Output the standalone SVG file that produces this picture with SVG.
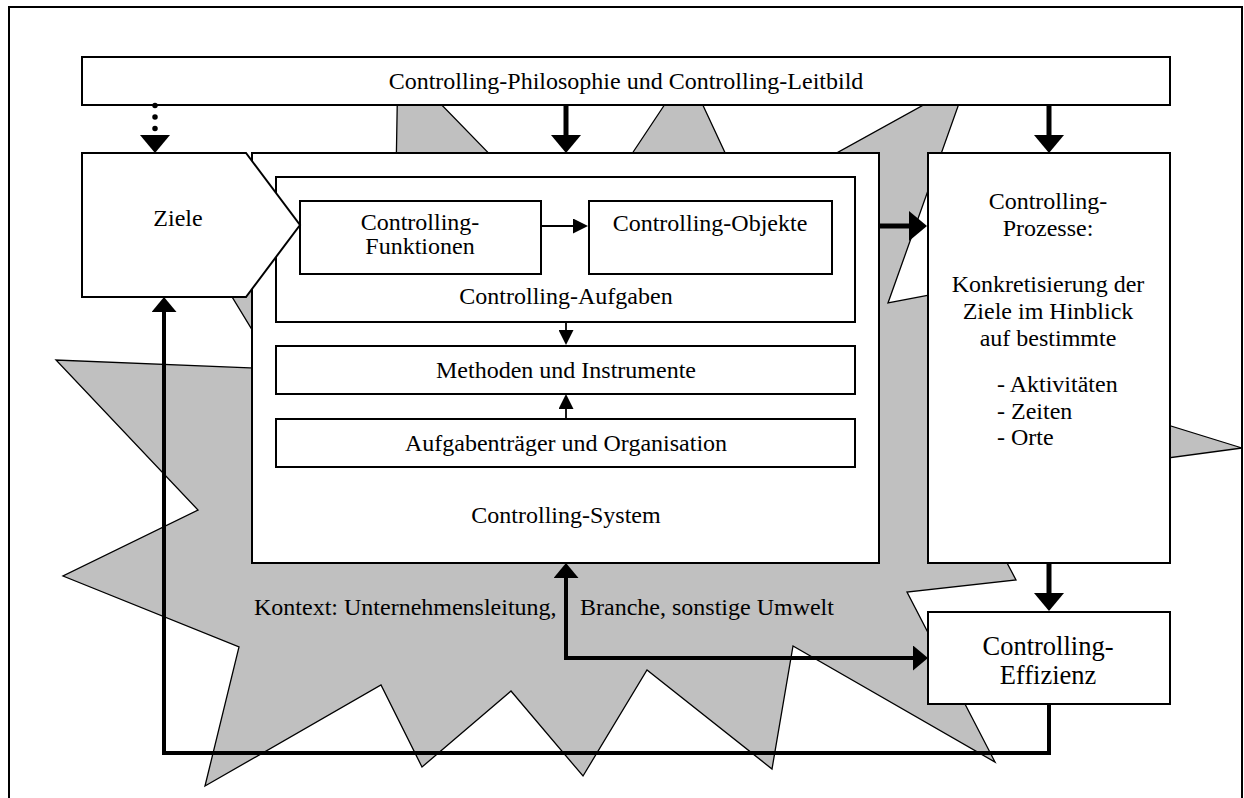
<svg xmlns="http://www.w3.org/2000/svg" width="1244" height="798" viewBox="0 0 1244 798">
  <defs>
    <style>
      .frame{fill:none;stroke:#000;stroke-width:2}
      .star{fill:#c0c0c0;stroke:#000;stroke-width:1.3;stroke-linejoin:miter}
      .box{fill:#fff;stroke:#000;stroke-width:2}
      .txt{font-family:"Liberation Serif","Times New Roman",serif;font-size:24px;fill:#000}
      .mid{text-anchor:middle}
      .large{font-size:26.5px}
      .thick{fill:none;stroke:#000;stroke-width:5}
      .med{fill:none;stroke:#000;stroke-width:4}
      .thin{fill:none;stroke:#000;stroke-width:1.8}
      .dots{fill:none;stroke:#000;stroke-width:5.5;stroke-linecap:round;stroke-dasharray:0 11.5}
    </style>
    <!-- arrowheads: line end sits inside the head, tip projects beyond it -->
    <marker id="head-thick" markerUnits="userSpaceOnUse" viewBox="0 0 18 30" markerWidth="18" markerHeight="30" refX="8" refY="15" orient="auto">
      <path d="M0,0 L18,15 L0,30 Z" fill="#000"/>
    </marker>
    <marker id="head-med" markerUnits="userSpaceOnUse" viewBox="0 0 15 25" markerWidth="15" markerHeight="25" refX="7" refY="12.5" orient="auto-start-reverse">
      <path d="M0,0 L15,12.5 L0,25 Z" fill="#000"/>
    </marker>
    <marker id="head-thin" markerUnits="userSpaceOnUse" viewBox="0 0 15 15" markerWidth="15" markerHeight="15" refX="3" refY="7.5" orient="auto">
      <path d="M0,0 L15,7.5 L0,15 Z" fill="#000"/>
    </marker>
  </defs>

  <rect width="1244" height="798" fill="#fff"/>
  <path class="frame" d="M9,798 V7 H1242 V798"/>

  <!-- context "explosion" shape behind everything -->
  <g id="kontext-shape">
    <polygon class="star" points="398,60 574,241 687,71 748,202 967,81 888,303 1050,272 1100,404 1242,448 966,485 1016,580 907,592 995,762 793,646 772,769 647,670 583,776 511,691 422,767 381,685 205,786 239,647 63,576 198,510 56,360 276,369 170,195 395,235"/>
  </g>

  <g id="leitbild">
    <rect class="box" x="82" y="57" width="1088" height="48"/>
    <text class="txt mid" x="626" y="89">Controlling-Philosophie und Controlling-Leitbild</text>
  </g>

  <g id="system">
    <rect class="box" x="252" y="153" width="627" height="410"/>
    <text class="txt mid" x="566" y="523">Controlling-System</text>
  </g>

  <g id="aufgaben">
    <rect class="box" x="276" y="177" width="579" height="145"/>
    <text class="txt mid" x="566" y="304">Controlling-Aufgaben</text>
  </g>

  <g id="funktionen">
    <rect class="box" x="300" y="201" width="241" height="73"/>
    <text class="txt mid" x="420" y="230">Controlling-</text>
    <text class="txt mid" x="420" y="254">Funktionen</text>
  </g>

  <g id="objekte">
    <rect class="box" x="589" y="201" width="243" height="73"/>
    <text class="txt mid" x="710" y="231">Controlling-Objekte</text>
  </g>

  <g id="methoden">
    <rect class="box" x="276" y="346" width="579" height="48"/>
    <text class="txt mid" x="566" y="378">Methoden und Instrumente</text>
  </g>

  <g id="traeger">
    <rect class="box" x="276" y="419" width="579" height="48"/>
    <text class="txt mid" x="566" y="451">Aufgabenträger und Organisation</text>
  </g>

  <g id="ziele">
    <polygon class="box" points="82,153 246,153 300,225 246,297 82,297"/>
    <text class="txt mid" x="178" y="226">Ziele</text>
  </g>

  <g id="prozesse">
    <rect class="box" x="928" y="153" width="242" height="410"/>
    <text class="txt mid" x="1048" y="209">Controlling-</text>
    <text class="txt mid" x="1048" y="236">Prozesse:</text>
    <text class="txt mid" x="1048" y="292">Konkretisierung der</text>
    <text class="txt mid" x="1048" y="319">Ziele im Hinblick</text>
    <text class="txt mid" x="1048" y="346">auf bestimmte</text>
    <text class="txt" x="997" y="392">- Aktivitäten</text>
    <text class="txt" x="997" y="419">- Zeiten</text>
    <text class="txt" x="997" y="445">- Orte</text>
  </g>

  <g id="effizienz">
    <rect class="box" x="928" y="612" width="242" height="92"/>
    <text class="txt mid large" x="1048" y="655">Controlling-</text>
    <text class="txt mid large" x="1048" y="684">Effizienz</text>
  </g>

  <g id="kontext-label">
    <text class="txt" x="254" y="615">Kontext: Unternehmensleitung,</text>
    <text class="txt" x="580" y="615">Branche, sonstige Umwelt</text>
  </g>

  <g id="connectors">
    <path class="dots" d="M155,105.5 V143" marker-end="url(#head-thick)"/>
    <path class="thick" d="M566,105 V143" marker-end="url(#head-thick)"/>
    <path class="thick" d="M1049,105 V143" marker-end="url(#head-thick)"/>
    <path class="thick" d="M879,226 H917" marker-end="url(#head-thick)"/>
    <path class="thick" d="M1049,563 V601" marker-end="url(#head-thick)"/>
    <path class="med" d="M566,571 V658 H920" marker-start="url(#head-med)" marker-end="url(#head-med)"/>
    <path class="med" d="M1049,704 V753 H164 V305" marker-end="url(#head-med)"/>
    <path class="thin" d="M541,226 H576" marker-end="url(#head-thin)"/>
    <path class="thin" d="M566,322 V333" marker-end="url(#head-thin)"/>
    <path class="thin" d="M566,419 V406" marker-end="url(#head-thin)"/>
  </g>
</svg>
